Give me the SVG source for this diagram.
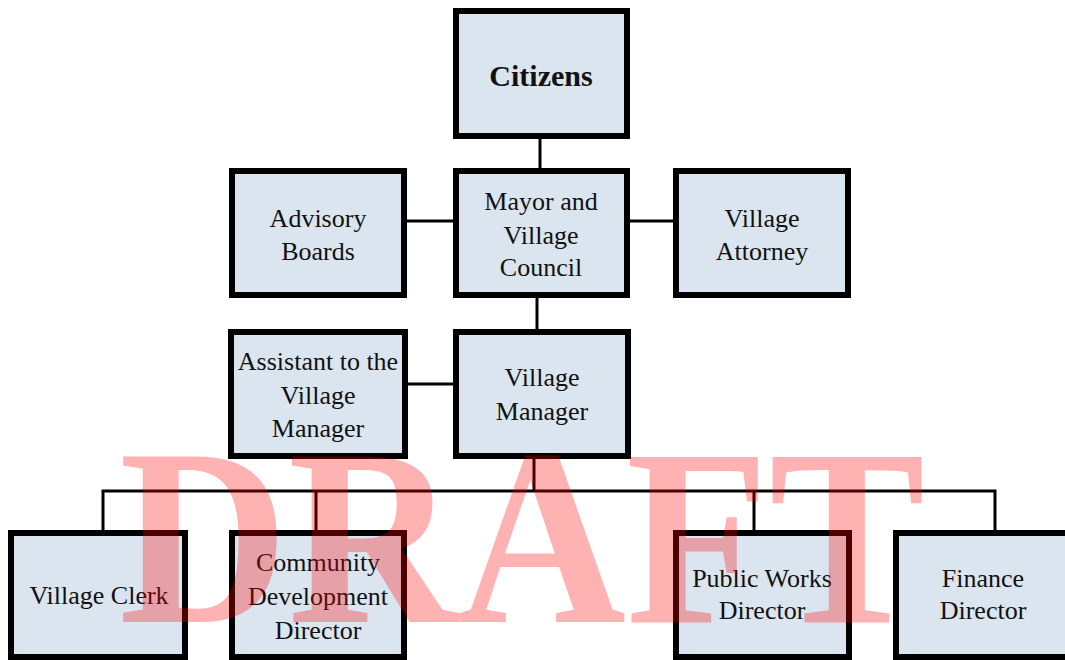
<svg xmlns="http://www.w3.org/2000/svg" width="1065" height="660" viewBox="0 0 1065 660">
<style>
.box{fill:#dbe5f0;stroke:#000;stroke-width:6}
.t{font-family:"Liberation Serif","Times New Roman",serif;font-size:26px;fill:#111;text-anchor:middle}
.b{font-weight:bold;font-size:30px}
.c{stroke:#000;stroke-width:3;fill:none}
.wm{font-family:"Liberation Serif","Times New Roman",serif;font-weight:bold;font-size:252px;fill:#ff0000;fill-opacity:0.3}
</style>
<rect width="1065" height="660" fill="#fff"/>
<g id="connectors">
<line class="c" x1="540" y1="138" x2="540" y2="169"/>
<line class="c" x1="406" y1="221" x2="454" y2="221"/>
<line class="c" x1="629" y1="221" x2="675" y2="221"/>
<line class="c" x1="537" y1="297" x2="537" y2="330"/>
<line class="c" x1="407" y1="384" x2="454" y2="384"/>
<line class="c" x1="534" y1="458" x2="534" y2="491"/>
<polyline class="c" points="103,531 103,491 995,491 995,531"/>
<line class="c" x1="316" y1="491" x2="316" y2="531"/>
<line class="c" x1="754" y1="491" x2="754" y2="531"/>
</g>
<g id="citizens"><rect class="box" x="456" y="11" width="171" height="125"/><text class="t b" x="541" y="86">Citizens</text></g>
<g id="advisory"><rect class="box" x="232" y="171" width="172" height="124"/><text class="t" x="318" y="227">Advisory</text><text class="t" x="318" y="260">Boards</text></g>
<g id="mayor"><rect class="box" x="456" y="171" width="171" height="124"/><text class="t" x="541" y="210">Mayor and</text><text class="t" x="541" y="244">Village</text><text class="t" x="541" y="276">Council</text></g>
<g id="attorney"><rect class="box" x="676" y="171" width="172" height="124"/><text class="t" x="762" y="227">Village</text><text class="t" x="762" y="260">Attorney</text></g>
<g id="assistant"><rect class="box" x="231" y="332" width="174" height="124"/><text class="t" x="318" y="370">Assistant to the</text><text class="t" x="318" y="404">Village</text><text class="t" x="318" y="437">Manager</text></g>
<g id="manager"><rect class="box" x="456" y="332" width="172" height="124"/><text class="t" x="542" y="386">Village</text><text class="t" x="542" y="420">Manager</text></g>
<g id="clerk"><rect class="box" x="11" y="533" width="174" height="124"/><text class="t" x="99" y="604">Village Clerk</text></g>
<g id="community"><rect class="box" x="232" y="533" width="172" height="124"/><text class="t" x="318" y="571">Community</text><text class="t" x="318" y="605">Development</text><text class="t" x="318" y="639">Director</text></g>
<g id="publicworks"><rect class="box" x="676" y="533" width="173" height="124"/><text class="t" x="762" y="587">Public Works</text><text class="t" x="762" y="619">Director</text></g>
<g id="finance"><rect class="box" x="896" y="533" width="172" height="124"/><text class="t" x="983" y="587">Finance</text><text class="t" x="983" y="619">Director</text></g>
<text class="wm" x="119" y="622" textLength="806" lengthAdjust="spacingAndGlyphs">DRAFT</text>
</svg>
